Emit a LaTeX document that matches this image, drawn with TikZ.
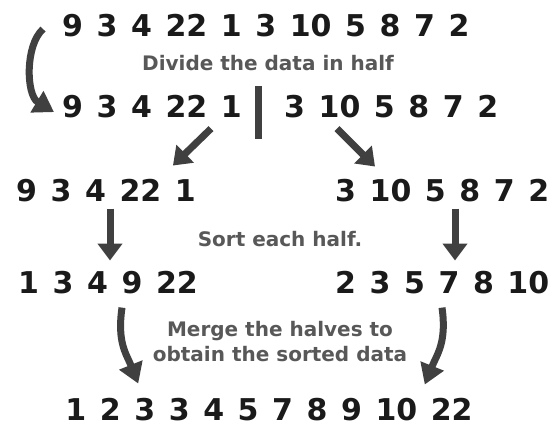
\documentclass[tikz,border=0pt]{standalone}
\usepackage{fontspec}
\setmainfont{DejaVu Sans}
\newfontfamily\numfont{DejaVu Sans}[WordSpace=1.3]
\usetikzlibrary{arrows.meta,calc}
\definecolor{numink}{HTML}{1A1A1A}
\definecolor{lblink}{HTML}{585858}
\definecolor{arrink}{HTML}{404040}

\begin{document}
\begin{tikzpicture}[x=1pt, y=-1pt,
    num/.style={inner sep=0pt, text=numink, font=\numfont\bfseries\fontsize{30}{36}\selectfont},
    lbl/.style={inner sep=0pt, text=lblink, font=\bfseries\fontsize{20}{25}\selectfont},
    arr/.style={-{Triangle[length=17pt, width=24pt]}, line width=7pt, arrink},
    carr/.style={-{Triangle[length=20pt, width=24pt]}, line width=7pt, arrink},
    splitbar/.style={fill=arrink, inner sep=0pt, minimum width=7pt, minimum height=53pt},
]
\useasboundingbox[fill=white] (0,0) rectangle (557,426);

% Whole list
\node[num, anchor=base west] (r1) at (62,36) {9 3 4 22 1 3 10 5 8 7 2};
\node[lbl, anchor=base] (divide) at (268,70) {Divide the data in half};

% Split in two
\node[num, anchor=base west] (r2l) at (62,117) {9 3 4 22 1};
\node[splitbar] (split) at (258,112) {};
\node[num, anchor=base west] (r2r) at (284,117) {3 10 5 8 7 2};

% Halves
\node[num, anchor=base west] (r3l) at (16,201) {9 3 4 22 1};
\node[num, anchor=base west] (r3r) at (335,201) {3 10 5 8 7 2};
\node[lbl, anchor=base] (sort) at (280,246) {Sort each half.};

% Sorted halves
\node[num, anchor=base west] (r4l) at (18,293) {1 3 4 9 22};
\node[num, anchor=base west] (r4r) at (335,293) {2 3 5 7 8 10};
\node[lbl, anchor=base] (merge1) at (280,336) {Merge the halves to};
\node[lbl, anchor=base] (merge2) at (280,361) {obtain the sorted data};

% Merged result
\node[num, anchor=base] (r5) at (269,420) {1 2 3 3 4 5 7 8 9 10 22};

% Arrows
\draw[carr] ($(r1.west)+(-19,4)$) .. controls +(-18,16) and +(-28,-17) .. ($(r2l.west)+(-8,6)$);
\draw[arr] ($(r2l.south east)+(-31,11)$) -- ($(r3l.north east)+(-23,-13)$);
\draw[arr] ($(r2r.south west)+(53,11)$) -- ($(r3r.north west)+(40,-12)$);
\draw[arr] ($(r3l.south west)+(94,7)$) -- ($(r4l.north west)+(92,-10)$);
\draw[arr] ($(r3r.south west)+(120,7)$) -- ($(r4r.north west)+(120,-10)$);
\draw[carr] ($(r4l.south west)+(104,14)$) .. controls +(-5,35) and +(-12,-30) .. ($(r5.north west)+(73,-14)$);
\draw[carr] ($(r4r.south west)+(107,14)$) .. controls +(5,35) and +(12,-30) .. ($(r5.north east)+(-48,-13)$);
\end{tikzpicture}
\end{document}
